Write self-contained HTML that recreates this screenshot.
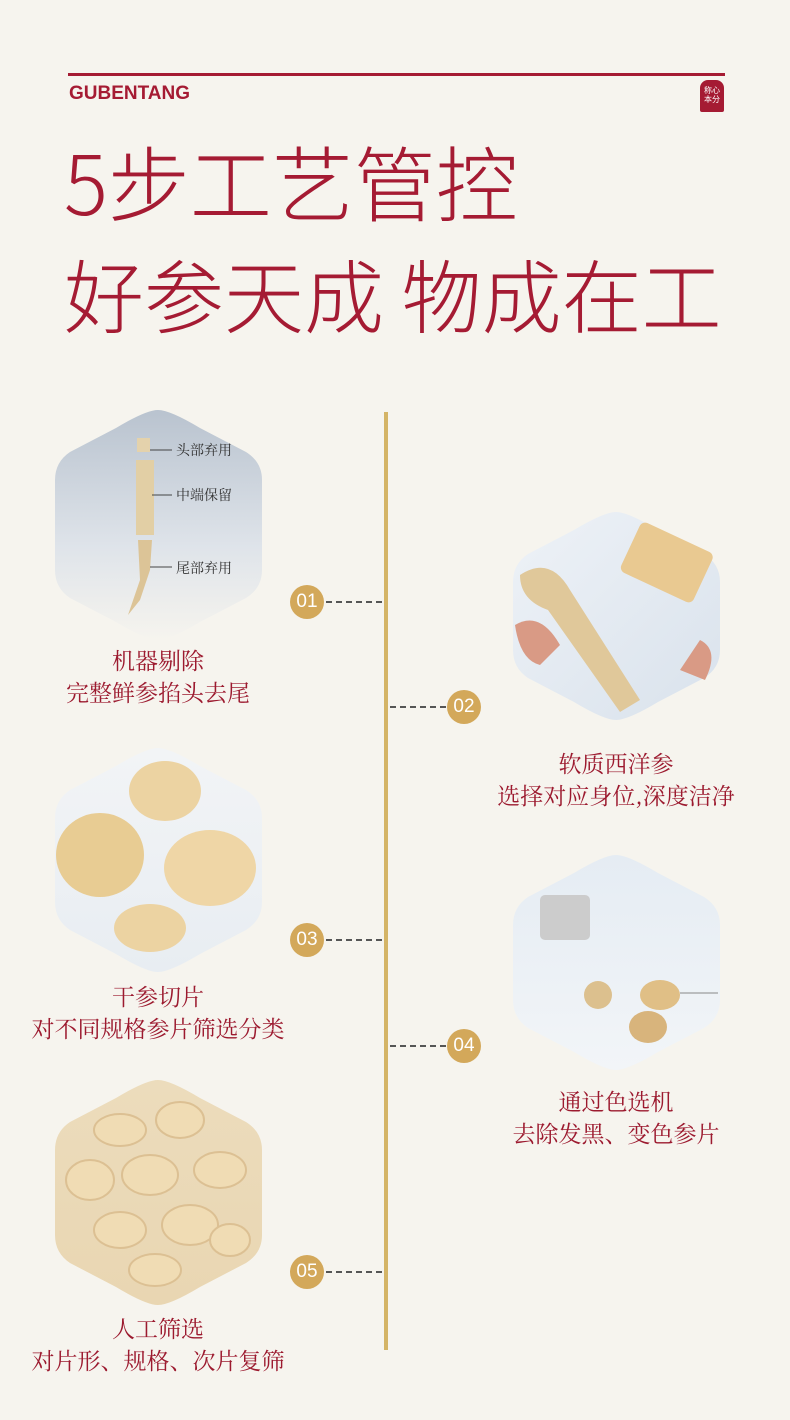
<!DOCTYPE html>
<html><head><meta charset="utf-8"><style>
html,body{margin:0;padding:0}
body{width:790px;height:1420px;background:#f6f4ee;position:relative;overflow:hidden;font-family:"Liberation Sans","Noto Sans CJK SC",sans-serif}
.t{position:absolute;color:#a51b33;white-space:nowrap}
.cap{position:absolute;color:#9c1a2f;text-align:center;font-family:"Noto Serif CJK SC","Liberation Serif",serif;font-size:23px;line-height:32px;width:360px}
.c{position:absolute;width:34px;height:34px;border-radius:50%;background:#d3a85a;color:#fff;font-size:19px;line-height:34px;text-align:center}
.d{position:absolute;height:0;border-top:2px dashed #555;width:56px}
</style></head><body>
<div style="position:absolute;left:68px;top:73px;width:657px;height:3px;background:#a51b33"></div>
<div class="t" style="left:69px;top:83px;font-size:19px;font-weight:bold">GUBENTANG</div>
<div style="position:absolute;left:700px;top:80px;width:24px;height:32px;background:#a51b33;border-radius:8px 8px 2px 2px;color:#fff;font-size:8px;line-height:9px;text-align:center;padding-top:6px;box-sizing:border-box">称心<br>本分</div>
<div class="t" style="left:64px;top:125px;font-size:82px;line-height:110px;font-family:'Noto Sans CJK SC',sans-serif;font-weight:300">5步工艺管控</div>
<div class="t" style="left:64px;top:238px;font-size:80px;line-height:110px;font-family:'Noto Sans CJK SC',sans-serif;font-weight:300">好参天成 物成在工</div>

<div style="position:absolute;left:384px;top:412px;width:4px;height:938px;background:#d4b466"></div>

<svg width="790" height="1420" style="position:absolute;left:0;top:0">
<defs>
<linearGradient id="g1" x1="0" y1="0" x2="0" y2="1"><stop offset="0" stop-color="#b9c3cf"/><stop offset="0.6" stop-color="#dfe4ea"/><stop offset="1" stop-color="#f6f4ee"/></linearGradient>
<linearGradient id="g2" x1="0" y1="0" x2="1" y2="1"><stop offset="0" stop-color="#eef2f7"/><stop offset="1" stop-color="#d9e2ec"/></linearGradient>
<linearGradient id="g3" x1="0" y1="0" x2="0" y2="1"><stop offset="0" stop-color="#f2f4f6"/><stop offset="1" stop-color="#e8edf2"/></linearGradient>
<linearGradient id="g4" x1="0" y1="0" x2="0" y2="1"><stop offset="0" stop-color="#e5ecf3"/><stop offset="1" stop-color="#f2f5f8"/></linearGradient>
<linearGradient id="g5" x1="0" y1="0" x2="0" y2="1"><stop offset="0" stop-color="#ecdcbc"/><stop offset="1" stop-color="#e9d6b2"/></linearGradient>
</defs>
<path d="M158 410 Q170 410 200 428 L246 452 Q262 462 262 480 L262 570 Q262 588 246 598 L200 622 Q170 640 158 640 Q146 640 116 622 L70 598 Q55 588 55 570 L55 480 Q55 462 70 452 L116 428 Q146 410 158 410Z" fill="url(#g1)"/>
<path d="M616 512 Q628 512 658 530 L704 554 Q720 564 720 582 L720 650 Q720 668 704 678 L658 702 Q628 720 616 720 Q604 720 574 702 L528 678 Q513 668 513 650 L513 582 Q513 564 528 554 L574 530 Q604 512 616 512Z" fill="url(#g2)"/>
<path d="M158 748 Q170 748 200 766 L246 790 Q262 800 262 818 L262 902 Q262 920 246 930 L200 954 Q170 972 158 972 Q146 972 116 954 L70 930 Q55 920 55 902 L55 818 Q55 800 70 790 L116 766 Q146 748 158 748Z" fill="url(#g3)"/>
<path d="M616 855 Q628 855 658 873 L704 897 Q720 907 720 925 L720 1000 Q720 1018 704 1028 L658 1052 Q628 1070 616 1070 Q604 1070 574 1052 L528 1028 Q513 1018 513 1000 L513 925 Q513 907 528 897 L574 873 Q604 855 616 855Z" fill="url(#g4)"/>
<path d="M158 1080 Q170 1080 200 1098 L246 1122 Q262 1132 262 1150 L262 1235 Q262 1253 246 1263 L200 1287 Q170 1305 158 1305 Q146 1305 116 1287 L70 1263 Q55 1253 55 1235 L55 1150 Q55 1132 70 1122 L116 1098 Q146 1080 158 1080Z" fill="url(#g5)"/>
<rect x="137" y="438" width="13" height="14" fill="#e4d2ac"/>
<rect x="136" y="460" width="18" height="75" fill="#e2cfa5"/>
<path d="M138 540 L152 540 L150 570 L140 600 L128 615 L140 580Z" fill="#dcc497"/>
<g stroke="#444" stroke-width="1"><line x1="150" y1="450" x2="172" y2="450"/><line x1="152" y1="495" x2="172" y2="495"/><line x1="150" y1="567" x2="172" y2="567"/></g>
<g font-family="Noto Serif CJK SC,Liberation Serif,serif" font-size="14" fill="#333"><text x="176" y="455">头部弃用</text><text x="176" y="500">中端保留</text><text x="176" y="573">尾部弃用</text></g>
<path d="M520 575 Q550 555 570 590 L640 700 L620 712 L548 610 Q520 600 520 575Z" fill="#e0c89a"/>
<rect x="627" y="535" width="80" height="55" rx="6" fill="#e9c991" transform="rotate(25 667 562)"/>
<path d="M515 625 Q540 610 560 645 L540 665 Q520 660 515 625Z" fill="#d99a85"/>
<path d="M700 640 Q720 650 705 680 L680 670Z" fill="#d99a85"/>
<ellipse cx="165" cy="791" rx="36" ry="30" fill="#ecd3a2"/>
<ellipse cx="100" cy="855" rx="44" ry="42" fill="#e8cc93"/>
<ellipse cx="210" cy="868" rx="46" ry="38" fill="#efd6a6"/>
<ellipse cx="150" cy="928" rx="36" ry="24" fill="#ecd3a2"/>
<rect x="540" y="895" width="50" height="45" rx="5" fill="#ccc"/>
<circle cx="598" cy="995" r="14" fill="#dcc08e"/>
<ellipse cx="660" cy="995" rx="20" ry="15" fill="#e0bf86"/>
<ellipse cx="648" cy="1027" rx="19" ry="16" fill="#d8b47c"/>
<line x1="680" y1="993" x2="718" y2="993" stroke="#888"/>
<g fill="#f0dcb4" stroke="#dcc093" stroke-width="2">
<ellipse cx="120" cy="1130" rx="26" ry="16"/><ellipse cx="180" cy="1120" rx="24" ry="18"/><ellipse cx="90" cy="1180" rx="24" ry="20"/>
<ellipse cx="150" cy="1175" rx="28" ry="20"/><ellipse cx="220" cy="1170" rx="26" ry="18"/><ellipse cx="120" cy="1230" rx="26" ry="18"/>
<ellipse cx="190" cy="1225" rx="28" ry="20"/><ellipse cx="155" cy="1270" rx="26" ry="16"/><ellipse cx="230" cy="1240" rx="20" ry="16"/>
</g>
</svg>

<div class="c" style="left:290px;top:585px">01</div><div class="d" style="left:326px;top:601px"></div>
<div class="c" style="left:447px;top:690px">02</div><div class="d" style="left:390px;top:706px"></div>
<div class="c" style="left:290px;top:923px">03</div><div class="d" style="left:326px;top:939px"></div>
<div class="c" style="left:447px;top:1029px">04</div><div class="d" style="left:390px;top:1045px"></div>
<div class="c" style="left:290px;top:1255px">05</div><div class="d" style="left:326px;top:1271px"></div>

<div class="cap" style="left:-22px;top:644px">机器剔除<br>完整鲜参掐头去尾</div>
<div class="cap" style="left:436px;top:747px">软质西洋参<br>选择对应身位,深度洁净</div>
<div class="cap" style="left:-22px;top:980px">干参切片<br>对不同规格参片筛选分类</div>
<div class="cap" style="left:436px;top:1085px">通过色选机<br>去除发黑、变色参片</div>
<div class="cap" style="left:-22px;top:1312px">人工筛选<br>对片形、规格、次片复筛</div>
</body></html>
